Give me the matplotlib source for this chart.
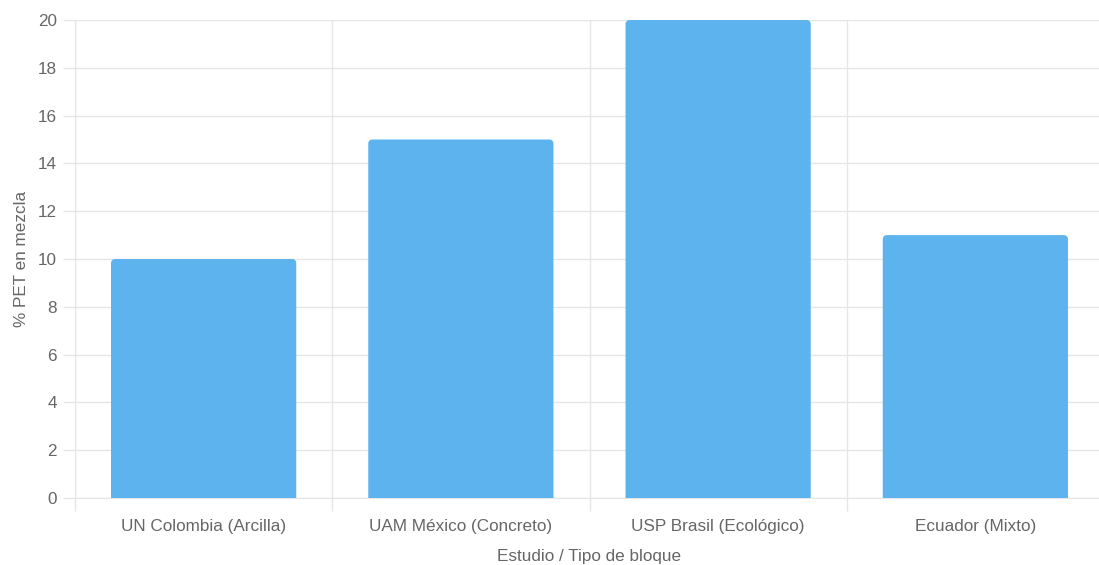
import numpy as np
import matplotlib.pyplot as plt
from matplotlib.patches import PathPatch
from matplotlib.path import Path

categories = ["UN Colombia (Arcilla)", "UAM México (Concreto)",
              "USP Brasil (Ecológico)", "Ecuador (Mixto)"]
pet_pct = [10, 15, 20, 11]
y_ticks = [0, 2, 4, 6, 8, 10, 12, 14, 16, 18, 20]

bar_color = "#5db3ee"
grid_color = "#e6e6e6"
text_color = "#666666"
fs = 12.3

plt.rcParams['font.family'] = ['Liberation Sans', 'DejaVu Sans']

fig = plt.figure(figsize=(10.99, 5.65), dpi=100)
W, H = 1099, 565
left, right, top, bottom = 75, 1104, 20, 498
ax = fig.add_axes([left / W, 1 - bottom / H, (right - left) / W, (bottom - top) / H])

x = list(range(len(categories)))
bars = ax.bar(x, pet_pct, width=0.72, color=bar_color, zorder=3)

# Chart.js style rounded top corners, square bottom
rx = 4 / ((right - left) / 4.0)
ry = 4 / ((bottom - top) / 20.0)
t = np.linspace(0, np.pi / 2, 8)
for b in bars:
    b.set_visible(False)
    x0, y0, w, h = b.get_x(), b.get_y(), b.get_width(), b.get_height()
    x1, y1 = x0 + w, y0 + h
    pts = [(x0, y0), (x1, y0)]
    # top-right corner
    pts += [(x1 - rx + rx * np.cos(a), y1 - ry + ry * np.sin(a)) for a in t]
    # top-left corner
    pts += [(x0 + rx - rx * np.cos(a), y1 - ry + ry * np.sin(a)) for a in t[::-1]]
    pts.append((x0, y0))
    ax.add_patch(PathPatch(Path(pts, closed=True), fc=bar_color, ec="none", zorder=3))

ax.set_xlim(-0.5, len(categories) - 0.5)
ax.set_ylim(0, 20)
ax.set_yticks(y_ticks)
ax.set_xticks(x)
ax.set_xticklabels(categories)
ax.set_xticks([i - 0.5 for i in range(len(categories) + 1)], minor=True)

ax.tick_params(axis='x', which='major', length=0, pad=15, labelsize=fs, labelcolor=text_color)
ax.tick_params(axis='x', which='minor', length=9, color=grid_color, width=1)
ax.tick_params(axis='y', length=9, color=grid_color, width=1, pad=4, labelsize=fs,
               labelcolor=text_color)

ax.grid(axis='y', color=grid_color, lw=1, zorder=0)
ax.grid(axis='x', which='minor', color=grid_color, lw=1, zorder=0)

for s in ['top', 'right']:
    ax.spines[s].set_visible(False)
for s in ['left', 'bottom']:
    ax.spines[s].set_color(grid_color)

ax.set_ylabel("% PET en mezcla", color=text_color, fontsize=fs, labelpad=6)
ax.set_xlabel("Estudio / Tipo de bloque", color=text_color, fontsize=fs, labelpad=11)

fig.savefig("out.png", dpi=100)
